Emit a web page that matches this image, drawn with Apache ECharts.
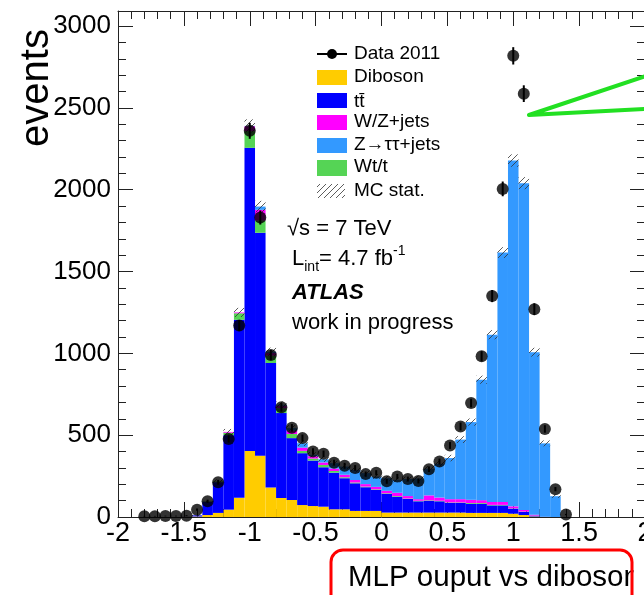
<!DOCTYPE html>
<html>
<head>
<meta charset="utf-8">
<script src="https://cdn.jsdelivr.net/npm/echarts@6/dist/echarts.min.js"></script>
<style>
html,body{margin:0;padding:0;background:#fff;}
#c{width:644px;height:595px;}
</style>
</head>
<body>
<div id="c"></div>
<script>
// Bin centres of the MLP output histogram (bin width 0.08, range -2 .. 2)
const binCenters = [-1.96,-1.88,-1.80,-1.72,-1.64,-1.56,-1.48,-1.40,-1.32,-1.24,-1.16,-1.08,-1.00,-0.92,-0.84,-0.76,-0.68,-0.60,-0.52,-0.44,-0.36,-0.28,-0.20,-0.12,-0.04,0.04,0.12,0.20,0.28,0.36,0.44,0.52,0.60,0.68,0.76,0.84,0.92,1.00,1.08,1.16,1.24,1.32,1.40,1.48,1.56,1.64,1.72,1.80,1.88,1.96];

// Stacked MC components (bottom -> top)
const diboson = [0,0,0,0,0,0,1,3,12,25,45,117,404,375,180,116,104,73,67,63,47,47,37,37,37,27,27,27,27,27,27,27,27,25,25,25,25,20,12,3,0,0,0,0,0,0,0,0,0,0];
const ttbar   = [0,0,0,0,0,0,1,7,82,188,455,1088,1852,1362,761,519,378,317,278,241,224,190,169,145,128,114,97,83,69,72,69,59,59,55,55,46,46,31,19,5,0,0,0,0,0,0,0,0,0,0];
const wtt     = [0,0,0,0,0,0,0,0,2,5,15,40,102,75,45,30,25,14,12,14,10,6,5,4,4,4,4,3,3,3,3,3,3,5,5,3,3,2,2,1,0,0,0,0,0,0,0,0,0,0];
const wzjets  = [0,0,0,0,0,0,0,0,0,0,5,5,30,65,16,15,20,20,15,15,15,15,15,15,15,15,20,15,10,30,20,20,20,20,18,18,18,12,10,5,1,0,0,0,0,0,0,0,0,0];
const ztautau = [0,0,0,0,0,0,0,0,0,0,0,0,2,20,8,6,16,27,8,20,33,50,62,67,63,77,79,104,126,163,206,251,364,475,736,1022,1524,2113,1997,993,449,127,0,0,0,0,0,0,0,0];
// MC statistical uncertainty (half band height)
const mcStat  = [0,0,0,0,0,0,0,3,8,12,18,28,40,35,25,20,18,17,16,16,15,15,15,15,15,15,15,15,15,17,18,20,21,22,25,28,33,38,37,27,18,10,0,0,0,0,0,0,0,0];

// Data 2011 and its error bars
const data2011 = [null,null,5,5,6,6,8,45,96,212,477,1170,2360,1830,990,670,545,482,400,386,332,313,300,262,270,218,247,232,220,292,339,437,553,696,982,1350,2005,2818,2587,1270,538,170,15,null,null,null,null,null,null,null];
const dataErr  = [0,0,2,2,2,2,3,7,10,15,22,34,49,43,31,26,23,22,20,20,18,18,17,16,16,15,16,15,15,17,18,21,24,26,31,37,45,53,51,36,23,13,4,0,0,0,0,0,0,0];

const xTicks = {min:-2, max:2, step:0.5};
const yTicks = {min:0, max:3092, step:500};

const FONT = "'Liberation Sans', Arial, Helvetica, sans-serif";

const COL = {diboson:'#ffcc00', ttbar:'#0000ff', wtt:'#55d455', wz:'#ff00ff', ztt:'#3399ff'};

function hatchCanvas(){
  const c = document.createElement('canvas');
  c.width = 6; c.height = 6;
  const g = c.getContext('2d');
  g.strokeStyle = '#333'; g.lineWidth = 0.8;
  g.beginPath();
  g.moveTo(0,6); g.lineTo(6,0);
  g.moveTo(-1,1); g.lineTo(1,-1);
  g.moveTo(5,7); g.lineTo(7,5);
  g.stroke();
  return c;
}
const HATCH = hatchCanvas();

const totals = binCenters.map((_,i)=>diboson[i]+ttbar[i]+wtt[i]+wzjets[i]+ztautau[i]);
const hatchData = binCenters.map((_,i)=>[i, totals[i], mcStat[i]]).filter(d=>d[1]>0);
const errData = binCenters.map((_,i)=>[i, data2011[i], dataErr[i]]).filter(d=>d[1]!=null);

const chart = echarts.init(document.getElementById('c'), null, {renderer:'canvas'});

function barSeries(name, arr, color){
  return {name, type:'bar', stack:'mc', xAxisIndex:0, yAxisIndex:0, data:arr,
    barCategoryGap:'0%', barGap:'0%', itemStyle:{color, borderWidth:0},
    silent:true, animation:false, z:2};
}

const axisLineStyle = {color:'#222', width:1};

const option = {
  animation:false,
  backgroundColor:'#fff',
  grid:{left:118, top:11, width:527, height:506, containLabel:false, outerBoundsMode:'none'},
  xAxis:[
    {type:'category', data:binCenters, show:false, boundaryGap:true},
    {type:'value', position:'bottom', min:xTicks.min, max:xTicks.max, interval:xTicks.step,
      axisLine:{show:true, onZero:false, lineStyle:axisLineStyle},
      axisTick:{show:true, inside:true, length:15, lineStyle:axisLineStyle},
      minorTick:{show:true, splitNumber:5, length:8, lineStyle:axisLineStyle},
      splitLine:{show:false},
      axisLabel:{show:true, color:'#000', fontSize:27, fontFamily:FONT, margin:3,
        formatter:v=>String(v), showMinLabel:true, showMaxLabel:true}},
    {type:'value', position:'top', min:xTicks.min, max:xTicks.max, interval:xTicks.step,
      axisLine:{show:true, onZero:false, lineStyle:axisLineStyle},
      axisTick:{show:true, inside:true, length:15, lineStyle:axisLineStyle},
      minorTick:{show:true, splitNumber:5, length:8, lineStyle:axisLineStyle},
      splitLine:{show:false}, axisLabel:{show:false}}
  ],
  yAxis:[
    {type:'value', position:'left', min:yTicks.min, max:yTicks.max, interval:yTicks.step,
      axisLine:{show:true, onZero:false, lineStyle:axisLineStyle},
      axisTick:{show:true, inside:true, length:15, lineStyle:axisLineStyle},
      minorTick:{show:true, splitNumber:5, length:8, lineStyle:axisLineStyle},
      splitLine:{show:false},
      axisLabel:{show:true, color:'#000', fontSize:26, fontFamily:FONT, margin:7,
        formatter:v=> (v % 500 === 0 ? String(v) : '')}},
    {type:'value', position:'right', min:yTicks.min, max:yTicks.max, interval:yTicks.step,
      axisLine:{show:true, onZero:false, lineStyle:axisLineStyle},
      axisTick:{show:true, inside:true, length:15, lineStyle:axisLineStyle},
      minorTick:{show:true, splitNumber:5, length:8, lineStyle:axisLineStyle},
      splitLine:{show:false}, axisLabel:{show:false}}
  ],
  series:[
    barSeries('Diboson', diboson, COL.diboson),
    barSeries('tt', ttbar, COL.ttbar),
    barSeries('Wt/t', wtt, COL.wtt),
    barSeries('W/Z+jets', wzjets, COL.wz),
    barSeries('Ztautau', ztautau, COL.ztt),
    {name:'MC stat', type:'custom', xAxisIndex:0, yAxisIndex:0, data:hatchData, silent:true, z:5,
      renderItem:(params, api)=>{
        const i = api.value(0), t = api.value(1), e = api.value(2);
        const top = api.coord([i, t+e]);
        const bot = api.coord([i, t-e]);
        const w = api.size([1,0])[0];
        return {type:'rect', shape:{x:top[0]-w/2, y:top[1], width:w, height:bot[1]-top[1]},
          style:{fill:{image:HATCH, repeat:'repeat'}, stroke:null}};
      }},
    {name:'Data err', type:'custom', xAxisIndex:0, yAxisIndex:0, data:errData, silent:true, z:6,
      renderItem:(params, api)=>{
        const i = api.value(0), v = api.value(1), e = api.value(2);
        const a = api.coord([i, v+e]);
        const b = api.coord([i, v-e]);
        return {type:'line', shape:{x1:a[0], y1:a[1], x2:b[0], y2:b[1]}, style:{stroke:'#000', lineWidth:2}};
      }},
    {name:'Data 2011', type:'scatter', xAxisIndex:0, yAxisIndex:0, data:data2011,
      symbol:'circle', symbolSize:12, itemStyle:{color:'#000'}, silent:true, z:7}
  ],
  graphic:[
    // y-axis title
    {type:'text', x:37, y:88, rotation:Math.PI/2, style:{text:'events', font:'40px '+FONT, fill:'#000', align:'center', verticalAlign:'middle'}},
    // legend
    {type:'line', shape:{x1:317, y1:54, x2:347, y2:54}, style:{stroke:'#000', lineWidth:2}},
    {type:'circle', shape:{cx:332, cy:54, r:5}, style:{fill:'#000'}},
    {type:'rect', shape:{x:317, y:70, width:30, height:15}, style:{fill:COL.diboson}},
    {type:'rect', shape:{x:317, y:93, width:30, height:15}, style:{fill:COL.ttbar}},
    {type:'rect', shape:{x:317, y:115, width:30, height:15}, style:{fill:COL.wz}},
    {type:'rect', shape:{x:317, y:138, width:30, height:15}, style:{fill:COL.ztt}},
    {type:'rect', shape:{x:317, y:160, width:30, height:16}, style:{fill:COL.wtt}},
    {type:'rect', shape:{x:317, y:184, width:28, height:14}, style:{fill:{image:HATCH, repeat:'repeat'}}},
    {type:'text', x:354, y:54, style:{text:'Data 2011', font:'19px '+FONT, fill:'#000', verticalAlign:'middle'}},
    {type:'text', x:354, y:77, style:{text:'Diboson', font:'19px '+FONT, fill:'#000', verticalAlign:'middle'}},
    {type:'text', x:354, y:102, style:{text:'tt\u0304', font:'19px '+FONT, fill:'#000', verticalAlign:'middle'}},
    {type:'text', x:354, y:122, style:{text:'W/Z+jets', font:'19px '+FONT, fill:'#000', verticalAlign:'middle'}},
    {type:'text', x:354, y:145, style:{text:'Z\u2192\u03c4\u03c4+jets', font:'19px '+FONT, fill:'#000', verticalAlign:'middle'}},
    {type:'text', x:354, y:167, style:{text:'Wt/t', font:'19px '+FONT, fill:'#000', verticalAlign:'middle'}},
    {type:'text', x:354, y:191, style:{text:'MC stat.', font:'19px '+FONT, fill:'#000', verticalAlign:'middle'}},
    // info text
    {type:'text', x:287, y:229, style:{text:'\u221as = 7 TeV', font:'22px '+FONT, fill:'#000', verticalAlign:'middle'}},
    {type:'text', x:292, y:244, style:{text:'{m|L}{s|int}{m|= 4.7 fb}{p|-1}', fill:'#000',
      rich:{m:{font:'22px '+FONT, fontSize:22, fontFamily:FONT, lineHeight:30, verticalAlign:'middle'},
            s:{fontSize:14, fontFamily:FONT, lineHeight:16, verticalAlign:'bottom'},
            p:{fontSize:14, fontFamily:FONT, lineHeight:16, verticalAlign:'top'}}}},
    {type:'text', x:292, y:293, style:{text:'ATLAS', font:'italic bold 22px '+FONT, fill:'#000', verticalAlign:'middle'}},
    {type:'text', x:292, y:323, style:{text:'work in progress', font:'22px '+FONT, fill:'#000', verticalAlign:'middle'}},
    // green annotation lines
    {type:'polyline', shape:{points:[[646,76],[529,115],[646,109]]}, style:{stroke:'#22e022', lineWidth:4, fill:null, lineJoin:'round', lineCap:'round'}, z:20},
    // red box with caption
    {type:'text', x:348, y:578, style:{text:'MLP ouput vs diboson', font:'29.5px '+FONT, fill:'#000', verticalAlign:'middle'}, z:20},
    {type:'rect', shape:{x:633.5, y:551, width:20, height:44}, style:{fill:'#fff'}, z:21},
    {type:'rect', shape:{x:331, y:550, width:301, height:60, r:12}, style:{fill:null, stroke:'#ff0000', lineWidth:3}, z:22}
  ]
};
chart.setOption(option);
</script>
</body>
</html>
